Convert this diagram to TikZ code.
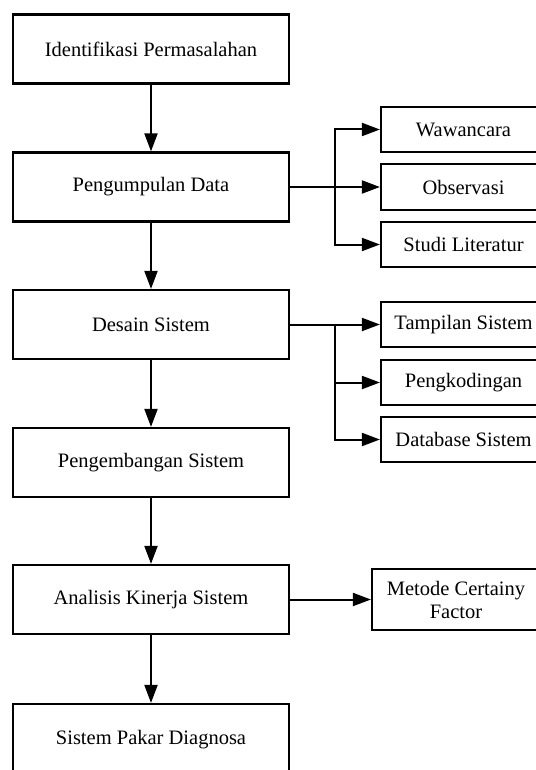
\documentclass[tikz,border=0pt]{standalone}
\usepackage{fontspec}
\setmainfont{Liberation Serif}
\usetikzlibrary{arrows.meta}
\begin{document}
\begin{tikzpicture}[x=1pt,y=-1pt,
  font=\fontsize{20.5}{23}\selectfont,
  every node/.style={inner sep=0pt},
  mainbox/.style={draw,line width=2.2pt,minimum width=276pt,minimum height=69pt},
  sidebox/.style={draw,line width=2.2pt,minimum width=165pt,minimum height=45pt},
  arr/.style={line width=2pt,-{Triangle[length=18pt,width=13pt]}},
  link/.style={line width=2pt}]
\fill[white] (0,0) rectangle (535,770);
\useasboundingbox (0,0) rectangle (535,770);

% main process column
\node[mainbox] (b1) at (151,49) {Identifikasi Permasalahan};
\node[mainbox] (b2) at (151,187) {Pengumpulan Data};
\node[mainbox] (b3) at (151,324.5) {Desain Sistem};
\node[mainbox] (b4) at (151,462.5) {Pengembangan Sistem};
\node[mainbox] (b5) at (151,599.5) {Analisis Kinerja Sistem};
\node[mainbox,minimum height=71pt] (b6) at (151,739.5) {Sistem Pakar Diagnosa};

% data collection methods
\node[sidebox] (waw) at (463.5,129.5) {Wawancara};
\node[sidebox,minimum height=46pt] (obs) at (463.5,187) {Observasi};
\node[sidebox] (stu) at (463.5,244.5) {Studi Literatur};

% design components
\node[sidebox] (tam) at (463.5,324.5) {Tampilan Sistem};
\node[sidebox] (pen) at (463.5,382.5) {Pengkodingan};
\node[sidebox] (dat) at (463.5,439.5) {Database Sistem};

% analysis method
\node[draw,line width=2.2pt,minimum width=168pt,minimum height=61pt,align=center] (met) at (456,599.5) {Metode Certainy\\Factor};

% vertical flow
\draw[arr] (b1) -- (b2);
\draw[arr] (b2) -- (b3);
\draw[arr] (b3) -- (b4);
\draw[arr] (b4) -- (b5);
\draw[arr] (b5) -- (b6);

% branches
\coordinate (j1) at (335,187);
\draw[arr] (b2.east) -- (obs.west);
\draw[link] (j1 |- waw.west) -- (j1 |- stu.west);
\draw[arr] (j1) |- (waw.west);
\draw[arr] (j1) |- (stu.west);

\coordinate (j2) at (335,324.5);
\draw[arr] (b3.east) -- (tam.west);
\draw[arr] (j2) |- (pen.west);
\draw[arr] (j2) |- (dat.west);

\draw[arr] (b5.east) -- (met.west);
\end{tikzpicture}
\end{document}
